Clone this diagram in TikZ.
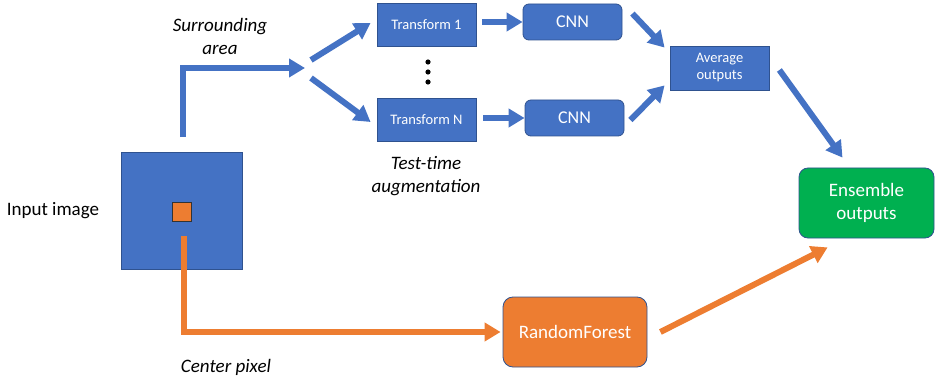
\documentclass[tikz,border=0pt]{standalone}
\usepackage{fontspec}
\setmainfont{Carlito}
\usetikzlibrary{arrows.meta,positioning,calc}
\definecolor{ppblue}{HTML}{4472C4}
\definecolor{ppedge}{HTML}{2F528F}
\definecolor{pporange}{HTML}{ED7D31}
\definecolor{ppgreen}{HTML}{00B050}
\tikzset{
  box/.style={draw=ppedge, line width=0.8pt, fill=ppblue, text=white, inner sep=0pt, align=center},
  roundbox/.style={box, rounded corners=6pt},
  flow/.style={-{Triangle[width=18pt,length=16pt]}, line width=6pt, ppblue},
  flowo/.style={flow, pporange},
  lbl/.style={font=\fontsize{19}{23}\selectfont, align=center},
  note/.style={align=center, font=\fontsize{19}{23}\selectfont\itshape},
}
\begin{document}
\begin{tikzpicture}[x=1pt, y=-1pt]
  \useasboundingbox (0,0) rectangle (935,377);
  % input image and its centre pixel
  \node (img) [box, minimum width=121pt, minimum height=117pt] at (181.5,211) {};
  \node (pix) [draw=black!80, fill=pporange, line width=0.8pt, minimum size=19pt, inner sep=0pt] at (181.5,211.5) {};
  \node (input) [lbl, left=18pt of img] {Input image};
  % test-time augmentation branch
  \node (t1)   [box, minimum width=99pt, minimum height=43pt, font=\fontsize{14.5}{17}\selectfont] at (426.5,24.5) {Transform 1};
  \node (tn)   [box, minimum width=99pt, minimum height=43pt, font=\fontsize{14.5}{17}\selectfont] at (426.5,119.5) {Transform N};
  \node (cnn1) [roundbox, minimum width=99pt, minimum height=36pt, font=\fontsize{18}{21}\selectfont] at (572.5,22) {CNN};
  \node (cnn2) [roundbox, minimum width=99pt, minimum height=36pt, font=\fontsize{18}{21}\selectfont] at (574.5,118) {CNN};
  \node (avg)  [box, minimum width=99pt, minimum height=44pt, font=\fontsize{14.5}{17}\selectfont] at (719.5,68) {Average\\outputs};
  \node (ens)  [roundbox, rounded corners=9pt, fill=ppgreen, minimum width=135pt, minimum height=70pt, font=\fontsize{19}{23}\selectfont] at (866.5,203) {Ensemble\\outputs};
  \node (rf)   [roundbox, rounded corners=10pt, fill=pporange, minimum width=144pt, minimum height=70pt, font=\fontsize{19}{23}\selectfont] at (575,332) {RandomForest};
  \node (dots) at (428,72) {};
  \foreach \dy in {-10,0,10}
    \fill ($(dots)+(0,\dy)$) circle (2.6pt);
  % labels
  \node (surr) [note] at (220,36) {Surrounding\\area};
  \node (tta)  [note] at (426,176) {Test-time\\augmentation};
  \node (ctr)  [note] at (226,367) {Center pixel};
  % connectors
  \coordinate (up)    at ($(img.north)+(1.5,-15)$);
  \coordinate (split) at (305,68);
  \coordinate (down)  at ($(pix.south)+(2.5,15)$);
  \draw[flow] (up) |- (split);
  \draw[flow] ($(split)+(6,-8)$) -- ($(t1.west)+(-6,-1.5)$);
  \draw[flow] ($(split)+(6,10)$) -- ($(tn.west)+(-6,2.5)$);
  \draw[flow] ($(t1.east)+(6,-2.5)$) -- (cnn1.west);
  \draw[flow] ($(tn.east)+(7,-1.5)$) -- (cnn2.west);
  \draw[flow] ($(cnn1.north east)+(10,10)$) -- ($(avg.north west)+(-5,2)$);
  \draw[flow] ($(cnn2.east)+(6,2)$) -- ($(avg.south west)+(-5,-5)$);
  \draw[flow] ($(avg.east)+(10,2)$) -- ($(ens.north)+(-24,-10)$);
  \draw[flowo] (down) |- ($(rf.west)+(-2,0)$);
  \draw[flowo] ($(rf.east)+(13,0)$) -- ($(ens.south west)+(29,9)$);
\end{tikzpicture}
\end{document}
